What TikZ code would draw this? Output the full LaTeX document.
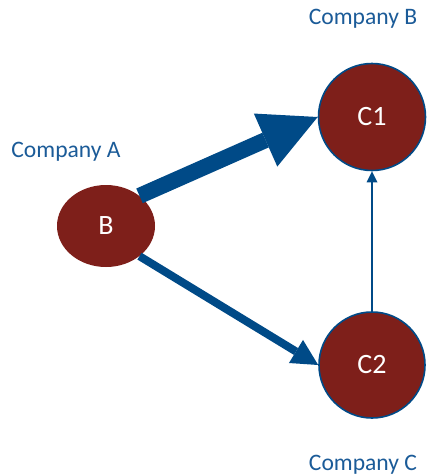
\documentclass[tikz,border=0pt]{standalone}
\usepackage{fontspec}
\setmainfont{Carlito}
\usetikzlibrary{arrows.meta,shapes.geometric}
\definecolor{firmred}{HTML}{7E1F1A}
\definecolor{linkblue}{HTML}{004A87}
\definecolor{labelblue}{HTML}{1B5B98}
\begin{document}
\begin{tikzpicture}[x=1pt,y=-1pt,
  firm/.style={fill=firmred, text=white, font=\fontsize{28}{30}\selectfont, inner sep=0pt},
  firmring/.style={firm, circle, draw=linkblue, line width=1.6pt},
  company/.style={text=labelblue, font=\fontsize{23.6}{26}\selectfont, inner sep=0pt, anchor=base},
  flow/.style={draw=linkblue, line join=miter}]
\useasboundingbox (0,0) rectangle (427,475);

% firms
\node[firm, ellipse, minimum width=98pt, minimum height=82pt] (B) at (106,226) {B};
\node[firmring, minimum size=107pt] (C1) at (372,117) {C1};
\node[firmring, minimum size=106pt] (C2) at (372,365) {C2};

% company labels
\node[company] (labA) at (66,157) {Company A};
\node[company] (labB) at (363,24) {Company B};
\node[company] (labC) at (363,470) {Company C};

% flows between firms
\draw[flow, line width=16pt, -{Triangle[width=58pt,length=57pt,line width=0pt]}] (B.42) -- (C1.west);
\draw[flow, line width=8pt, -{Triangle[width=27pt,length=26pt,line width=0pt]}] (B.-42) -- (C2.west);
\draw[flow, line width=1.5pt, -{Triangle[width=11pt,length=11pt,line width=0pt]}] (C2.north) -- (C1.south);
\end{tikzpicture}
\end{document}
